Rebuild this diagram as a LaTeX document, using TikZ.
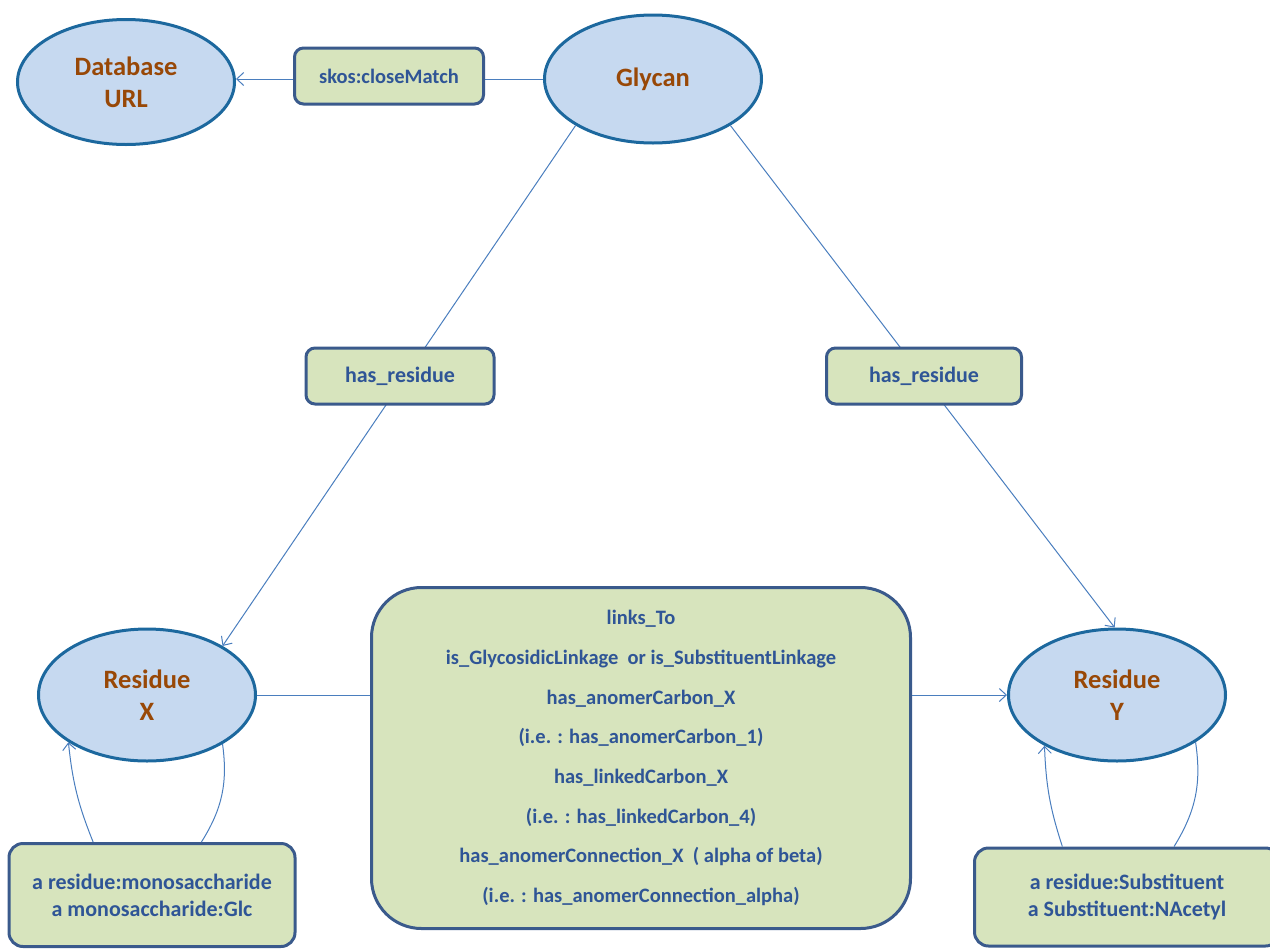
\documentclass[tikz,border=0pt]{standalone}
\usepackage{fontspec}
\setmainfont{Carlito}
\usetikzlibrary{shapes.geometric,arrows.meta}
\definecolor{elfill}{RGB}{198,217,240}
\definecolor{eldraw}{RGB}{28,104,158}
\definecolor{eltext}{RGB}{152,72,7}
\definecolor{bxfill}{RGB}{215,228,189}
\definecolor{bxdraw}{RGB}{58,90,140}
\definecolor{bxtext}{RGB}{47,85,150}
\definecolor{lncol}{RGB}{74,126,190}
\begin{document}
\begin{tikzpicture}[x=1pt,y=-1pt,
		cls/.style={ellipse,draw=eldraw,line width=3pt,fill=elfill,text=eltext,align=center,
			font=\fontsize{26.5}{32}\selectfont\bfseries,minimum width=217pt,minimum height=125pt,inner sep=0pt},
		prop/.style={rectangle,rounded corners=9pt,draw=bxdraw,line width=3pt,fill=bxfill,text=bxtext,
			align=center,font=\fontsize{22}{27}\selectfont\bfseries,inner sep=0pt},
		lnk/.style={draw=lncol,line width=1pt},
		arr/.style={lnk,-{Straight Barb[length=7pt,width=13pt]}}]
	\useasboundingbox (0,0) rectangle (1270,951);
	\node[cls] (gdb) at (126,82) {Database\\URL};
	\node[cls,minimum height=128pt] (ggl) at (653,79) {Glycan};
	\node[cls,minimum height=132pt] (brx) at (147,695) {Residue\\X};
	\node[cls,minimum height=132pt] (bry) at (1117,695) {Residue\\Y};
	\draw[arr] (ggl.west) -- (ggl.west -| gdb.east);
	\draw[arr] (ggl.211) -- (brx.33);
	\draw[arr] (ggl.329) -- (bry.92);
	\node[prop,minimum width=189pt,minimum height=56pt,font=\fontsize{20.5}{27}\selectfont\bfseries] (gsk) at (389,76) {skos:closeMatch};
	\node[prop,minimum width=188pt,minimum height=56pt] (bhr1) at (400,376) {has\_residue};
	\node[prop,minimum width=195pt,minimum height=56pt] (bhr2) at (924,376) {has\_residue};
	\node[prop,rounded corners=50pt,minimum width=539pt,minimum height=341pt,
		font=\fontsize{20.5}{39.7}\selectfont\bfseries] (blk) at (641,758)
		{links\_To\\is\_GlycosidicLinkage\ \ or is\_SubstituentLinkage\\has\_anomerCarbon\_X\\
		(i.e. : has\_anomerCarbon\_1)\\has\_linkedCarbon\_X\\(i.e. : has\_linkedCarbon\_4)\\
		has\_anomerConnection\_X\ \ ( alpha of beta)\\(i.e. : has\_anomerConnection\_alpha)};
	\node[prop,rounded corners=14pt,minimum width=286pt,minimum height=103pt] (bmx) at (152,895)
		{a residue:monosaccharide\\a monosaccharide:Glc};
	\node[prop,rounded corners=14pt,minimum width=305pt,minimum height=98pt] (bmy) at (1127,897)
		{a residue:Substituent\\a Substituent:NAcetyl};
	\draw[lnk] (brx.east) -- (brx.east -| blk.west);
	\draw[arr] (blk.east |- bry.west) -- (bry.west);
	\draw[arr] (bmx.138) to[bend left=8] (brx.211);
	\draw[lnk] (brx.327) to[bend left=20] (bmx.47);
	\draw[arr] (bmy.142) to[bend left=8] (bry.215);
	\draw[lnk] (bry.329) to[bend left=20] (bmy.47);
\end{tikzpicture}
\end{document}
